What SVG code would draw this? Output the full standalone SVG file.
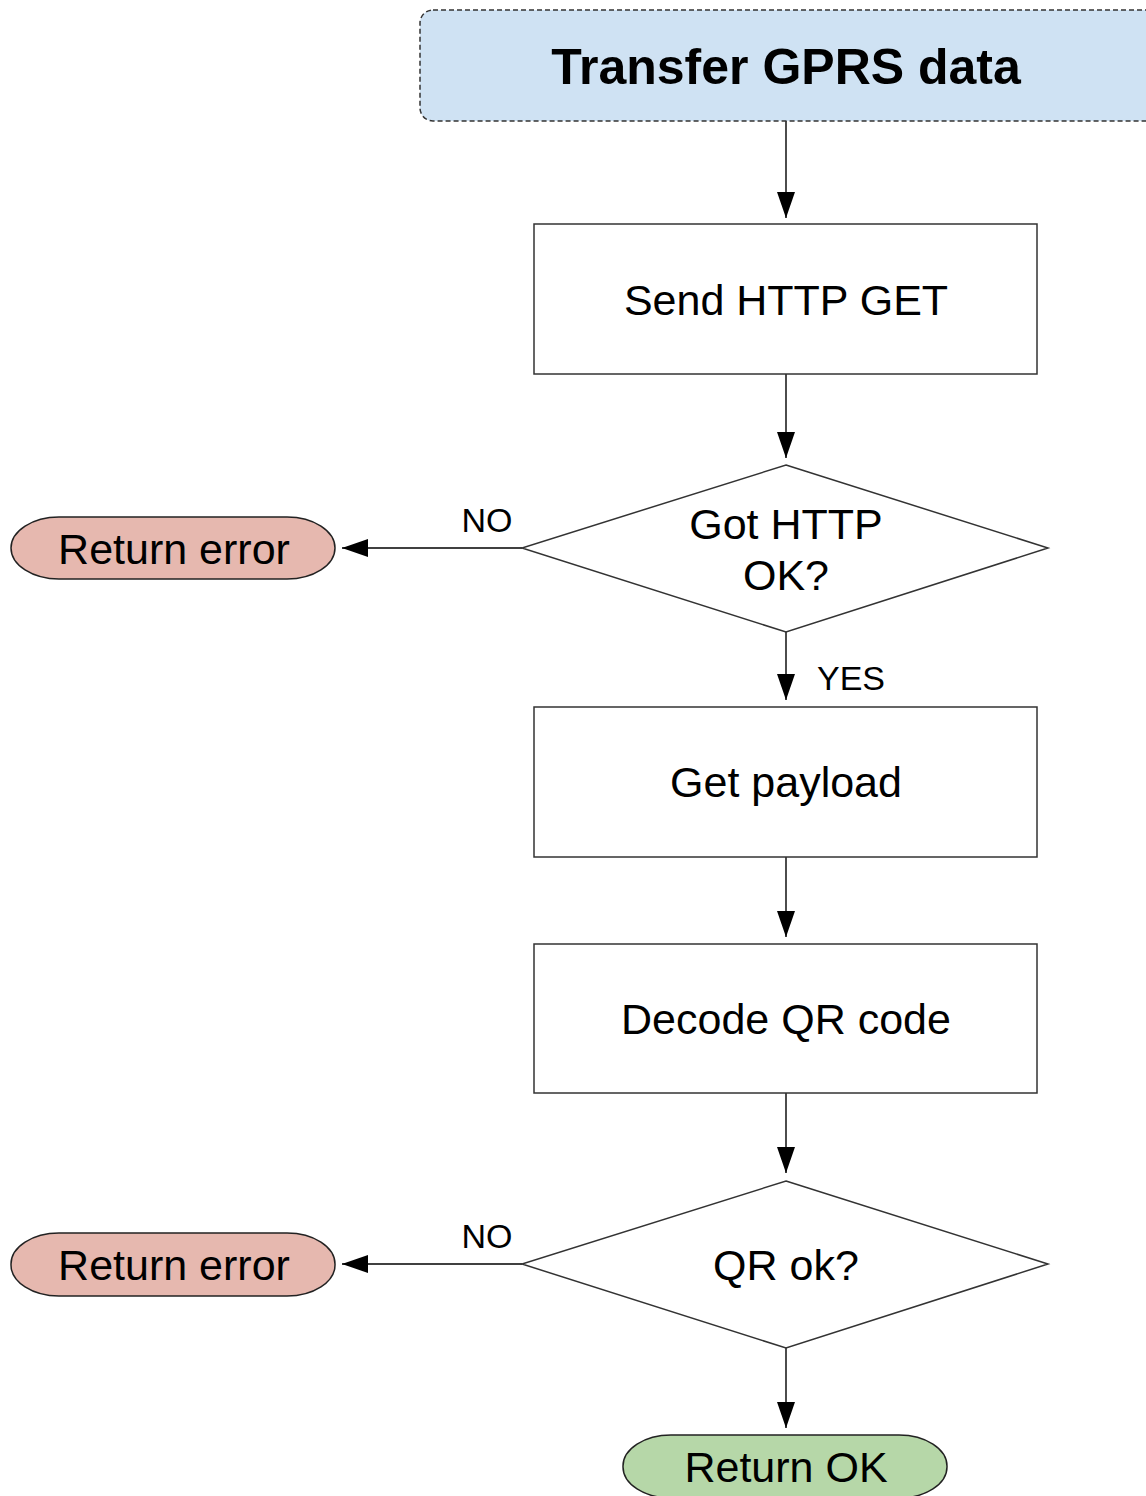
<svg xmlns="http://www.w3.org/2000/svg" width="1146" height="1496" viewBox="0 0 1146 1496">
  <defs>
    <marker id="arrow" markerUnits="userSpaceOnUse" markerWidth="26" markerHeight="18" refX="26" refY="9" orient="auto">
      <path d="M0,0 L26,9 L0,18 Z" fill="#000"/>
    </marker>
    <style>
      text { font-family: "Liberation Sans", Arial, sans-serif; fill: #000; text-anchor: middle; }
      .title { font-size: 50px; font-weight: bold; }
      .lbl { font-size: 43px; }
      .small { font-size: 34px; }
      .box { fill: #fff; stroke: #333; stroke-width: 1.5; }
      .start { fill: #cfe2f3; stroke: #333; stroke-width: 1.5; stroke-dasharray: 5 3; }
      .err { fill: #e6b8af; stroke: #222; stroke-width: 1.5; }
      .ok { fill: #b6d7a8; stroke: #222; stroke-width: 1.5; }
      .edge { fill: none; stroke: #000; stroke-width: 1.4; marker-end: url(#arrow); }
    </style>
  </defs>
  <rect width="1146" height="1496" fill="#fff"/>

  <!-- connectors -->
  <g id="connectors">
    <line class="edge" x1="786" y1="121" x2="786" y2="218"/>
    <line class="edge" x1="786" y1="374" x2="786" y2="458"/>
    <line class="edge" x1="522" y1="548" x2="342" y2="548"/>
    <line class="edge" x1="786" y1="632" x2="786" y2="700"/>
    <line class="edge" x1="786" y1="857" x2="786" y2="937"/>
    <line class="edge" x1="786" y1="1093" x2="786" y2="1173"/>
    <line class="edge" x1="522" y1="1264" x2="342" y2="1264"/>
    <line class="edge" x1="786" y1="1348" x2="786" y2="1428"/>
    <text class="small" x="487" y="532">NO</text>
    <text class="small" x="851" y="690">YES</text>
    <text class="small" x="487" y="1248">NO</text>
  </g>

  <!-- start -->
  <g id="start">
    <rect class="start" x="420" y="10" width="740" height="111" rx="13" ry="13"/>
    <text class="title" x="786" y="84">Transfer GPRS data</text>
  </g>

  <g id="send-get">
    <rect class="box" x="534" y="224" width="503" height="150"/>
    <text class="lbl" x="786" y="315">Send HTTP GET</text>
  </g>

  <g id="http-ok">
    <polygon class="box" points="786,465 1048,548 786,632 522,548"/>
    <text class="lbl" x="786" y="539">Got HTTP</text>
    <text class="lbl" x="786" y="590">OK?</text>
  </g>

  <g id="error-http">
    <rect class="err" x="11" y="517" width="324" height="62" rx="48" ry="31"/>
    <text class="lbl" x="174" y="564">Return error</text>
  </g>

  <g id="get-payload">
    <rect class="box" x="534" y="707" width="503" height="150"/>
    <text class="lbl" x="786" y="797">Get payload</text>
  </g>

  <g id="decode-qr">
    <rect class="box" x="534" y="944" width="503" height="149"/>
    <text class="lbl" x="786" y="1034">Decode QR code</text>
  </g>

  <g id="qr-ok">
    <polygon class="box" points="786,1181 1048,1264 786,1348 522,1264"/>
    <text class="lbl" x="786" y="1280">QR ok?</text>
  </g>

  <g id="error-qr">
    <rect class="err" x="11" y="1233" width="324" height="63" rx="48" ry="31"/>
    <text class="lbl" x="174" y="1280">Return error</text>
  </g>

  <g id="return-ok">
    <rect class="ok" x="623" y="1435" width="324" height="63" rx="48" ry="31"/>
    <text class="lbl" x="786" y="1482">Return OK</text>
  </g>
</svg>
